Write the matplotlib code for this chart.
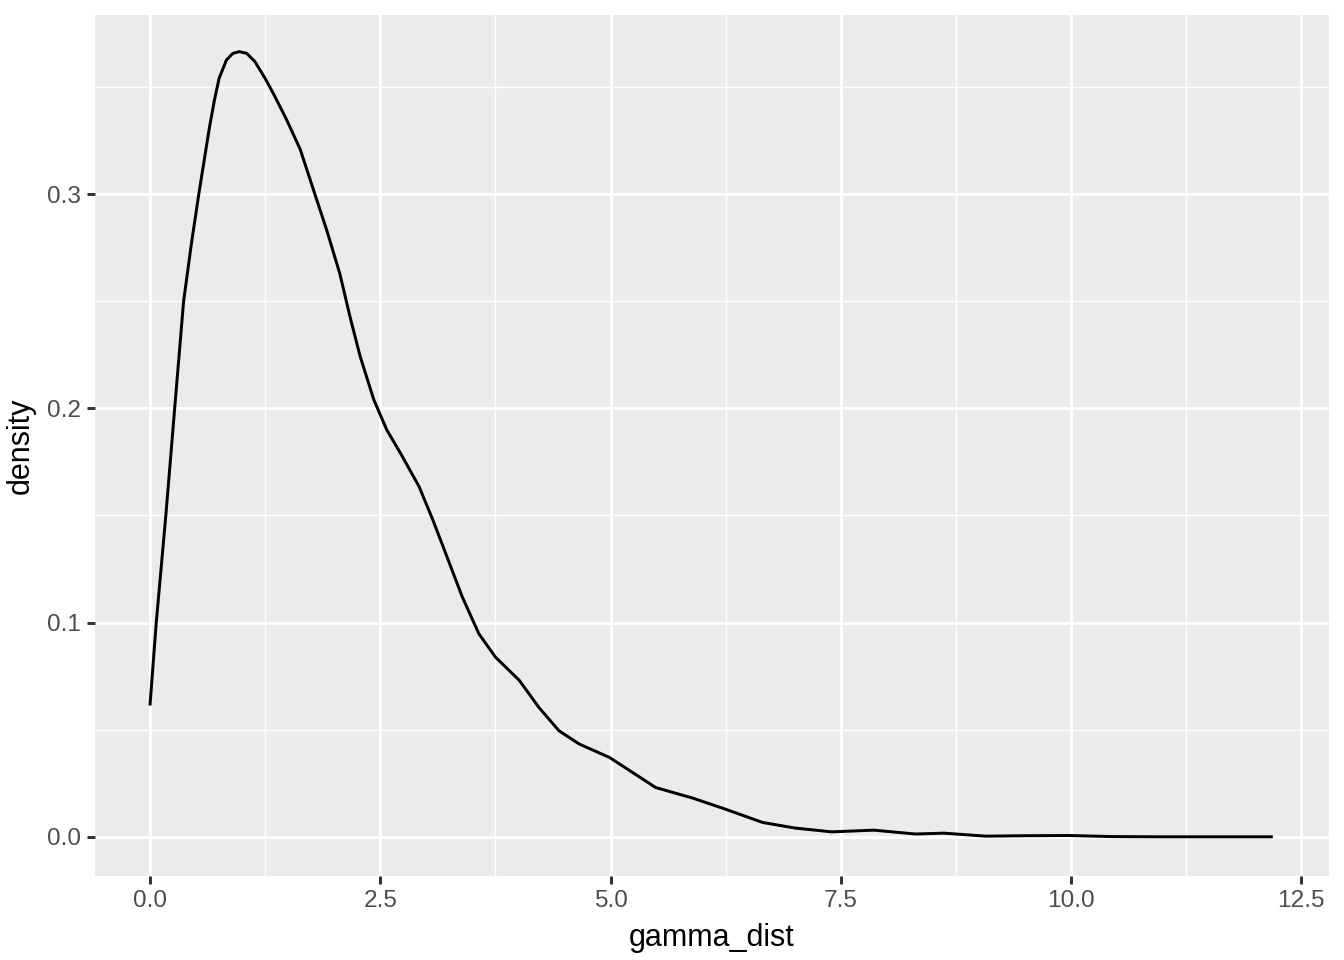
import numpy as np
import matplotlib
matplotlib.use("Agg")
import matplotlib.pyplot as plt

# density curve
gamma_x = [0.0, 0.068, 0.172, 0.268, 0.365, 0.45, 0.53, 0.58, 0.645, 0.70, 0.75,
           0.83, 0.90, 0.97, 1.05, 1.14, 1.25, 1.34, 1.48, 1.63, 1.79, 1.92, 2.06,
           2.17, 2.28, 2.43, 2.57, 2.72, 2.92, 3.07, 3.21, 3.39, 3.57, 3.75, 4.01,
           4.22, 4.44, 4.66, 4.99, 5.24, 5.49, 5.75, 5.89, 6.24, 6.65, 7.0, 7.4,
           7.86, 8.31, 8.62, 9.07, 9.5, 9.98, 10.44, 10.95, 11.5, 12.19]
density = [0.0613, 0.100, 0.150, 0.200, 0.250, 0.277, 0.300, 0.3135, 0.331, 0.344,
           0.354, 0.3626, 0.3657, 0.3665, 0.3657, 0.3618, 0.354, 0.3469, 0.335,
           0.321, 0.300, 0.283, 0.263, 0.243, 0.2245, 0.204, 0.190, 0.179, 0.1636,
           0.148, 0.1323, 0.112, 0.0948, 0.0839, 0.073, 0.0605, 0.0495, 0.0433,
           0.037, 0.030, 0.023, 0.0198, 0.0181, 0.013, 0.0067, 0.0041, 0.0023,
           0.0031, 0.0013, 0.0017, 0.0003, 0.0005, 0.0006, 0.0001, 0.0, 0.0, 0.0]

x_major = [0.0, 2.5, 5.0, 7.5, 10.0, 12.5]
x_minor = [1.25, 3.75, 6.25, 8.75, 11.25]
y_major = [0.0, 0.1, 0.2, 0.3]
y_minor = [0.05, 0.15, 0.25, 0.35]

plt.rcParams['font.family'] = ['Liberation Sans', 'DejaVu Sans']

fig = plt.figure(figsize=(6.72, 4.8), dpi=200)
ax = fig.add_axes([95/1344, 1 - 876/960, (1329 - 95)/1344, (876 - 15)/960])
ax.set_facecolor('#EBEBEB')
for s in ax.spines.values():
	s.set_visible(False)

ax.set_xticks(x_major)
ax.set_xticks(x_minor, minor=True)
ax.set_yticks(y_major)
ax.set_yticks(y_minor, minor=True)
ax.grid(which='major', color='white', linewidth=1.07)
ax.grid(which='minor', color='white', linewidth=0.53)
ax.set_axisbelow(True)

ax.plot(gamma_x, density, color='black', linewidth=1.07,
        solid_capstyle='butt', solid_joinstyle='round')

ax.set_xlim(-0.597, 12.80)
ax.set_ylim(-0.0183, 0.3836)

ax.tick_params(which='major', length=2.75, width=1.07, color='#333333',
               labelsize=8.8, labelcolor='#4D4D4D', pad=2.2)
ax.tick_params(which='minor', length=0)
ax.set_xticklabels([f"{v:.1f}" for v in x_major])
ax.set_yticklabels([f"{v:.1f}" for v in y_major])

ax.set_xlabel('gamma_dist', fontsize=11, color='black', labelpad=4)
ax.set_ylabel('density', fontsize=11, color='black', labelpad=4)

fig.savefig('out.png', dpi=200, facecolor='white')
